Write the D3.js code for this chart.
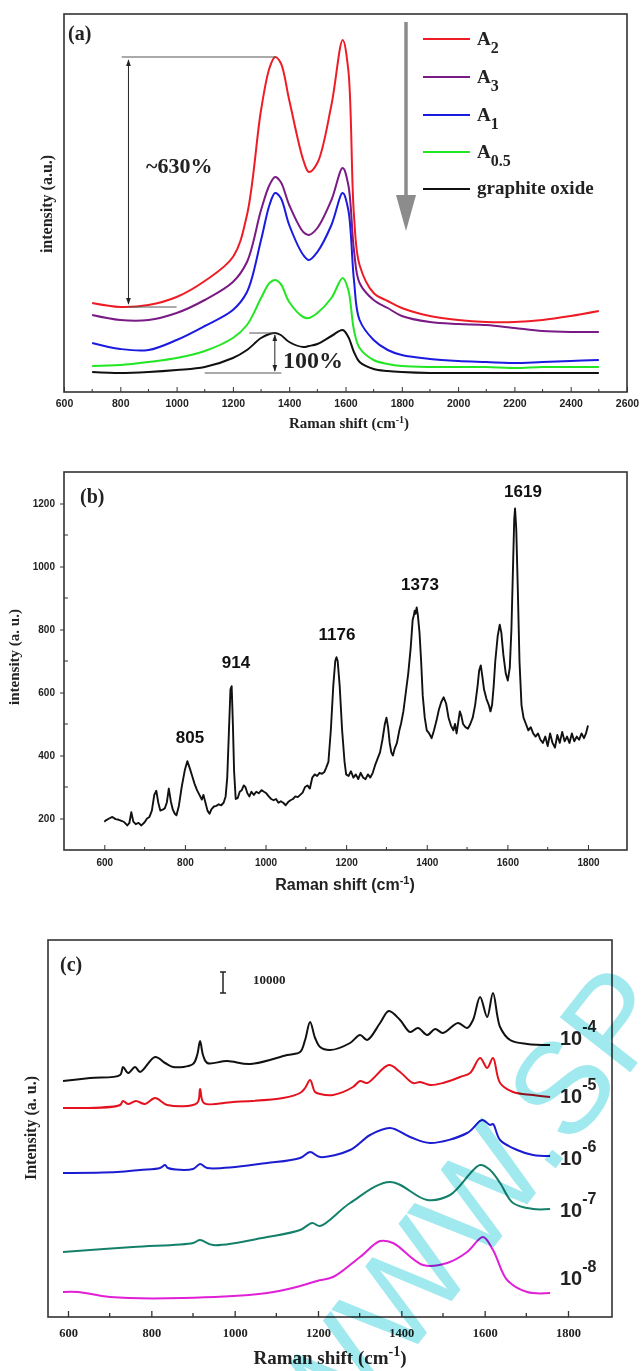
<!DOCTYPE html>
<html><head><meta charset="utf-8">
<script src="https://cdn.jsdelivr.net/npm/d3@7"></script>
<style>
html,body{margin:0;padding:0;background:#fff;}
svg{display:block;}
</style></head><body>
<svg id="chart" width="642" height="1371"></svg>
<script>
// ---------------- Panel (a) data ----------------
const shiftA = [700,800,900,1000,1100,1200,1250,1300,1330,1350,1370,1400,1450,1470,1500,1550,1590,1610,1630,1650,1700,1750,1800,1900,2000,2100,2200,2300,2400,2500];
const seriesA2  = [89,85,87,95,111,135,177,282,324,335,329,292,232,220,229,287,352,322,177,127,99,91,84,76,72,70,70,72,76,81];
const seriesA3  = [77,72,72,79,92,110,130,182,207,215,210,187,160,157,164,192,224,207,142,109,92,84,76,70,68,67,64,61,60,60];
const seriesA1  = [49,43,42,52,66,82,100,152,187,199,194,167,137,132,140,167,199,182,112,72,52,42,37,33,31,30,29,30,31,32];
const seriesA05 = [26,27,30,34,41,54,67,94,109,112,108,90,75,74,79,94,114,102,62,44,32,28,26,25,25,25,24,25,25,25];
const seriesGO  = [20,19,20,22,25,34,42,54,58,59,57,50,45,46,48,56,62,55,40,30,23,21,20,19,19,19,19,19,19,19];
const legendA = [
  {name:"A", sub:"2",   color:"#ee1c25", values:seriesA2},
  {name:"A", sub:"3",   color:"#7a1a85", values:seriesA3},
  {name:"A", sub:"1",   color:"#1a1ae0", values:seriesA1},
  {name:"A", sub:"0.5", color:"#22e622", values:seriesA05},
  {name:"graphite oxide", sub:"", color:"#111111", values:seriesGO}
];
const ticksA = [600,800,1000,1200,1400,1600,1800,2000,2200,2400,2600];

// ---------------- Panel (b) data ----------------
const shiftB = [600,605,612,620,628,636,644,650,657,662,667,672,678,685,692,700,706,712,718,724,729,734,739,745,750,755,760,765,770,775,779,785,792,800,806,812,818,824,830,836,842,846,851,856,861,866,872,878,884,890,896,901,905,909,913,916,919,922,926,931,936,941,946,950,955,960,965,971,977,983,990,996,1002,1008,1014,1020,1026,1032,1038,1044,1050,1056,1062,1068,1074,1080,1086,1092,1098,1104,1110,1116,1122,1128,1134,1140,1146,1150,1156,1162,1168,1173,1176,1179,1184,1190,1196,1200,1206,1212,1218,1224,1230,1236,1242,1248,1254,1260,1266,1272,1278,1284,1290,1296,1300,1304,1308,1312,1316,1320,1326,1332,1336,1342,1348,1354,1360,1365,1368,1370,1372,1375,1378,1382,1386,1390,1395,1400,1406,1412,1418,1424,1430,1436,1442,1448,1454,1460,1466,1470,1474,1478,1482,1486,1490,1496,1502,1508,1514,1520,1526,1530,1534,1538,1542,1548,1554,1558,1562,1566,1570,1576,1581,1585,1590,1596,1601,1606,1610,1614,1617,1619,1622,1626,1630,1635,1640,1646,1652,1658,1664,1670,1676,1682,1688,1694,1700,1706,1712,1718,1724,1730,1736,1742,1748,1754,1760,1766,1772,1778,1784,1790,1795,1800];
const intensityB = [190,195,200,205,198,196,192,188,178,185,220,190,182,186,178,188,200,205,225,275,288,250,225,228,232,250,295,255,228,215,210,240,300,355,382,360,335,310,290,275,260,275,250,225,215,230,238,240,245,242,250,270,330,470,610,620,500,350,262,265,285,290,305,300,280,270,285,275,285,280,290,285,280,270,262,258,262,250,255,250,242,252,258,262,270,268,275,282,300,305,295,330,340,335,345,342,348,360,380,480,620,700,712,700,620,480,380,340,335,350,330,340,325,345,330,325,340,330,345,370,390,410,450,500,520,490,440,410,400,420,440,480,500,540,600,660,740,830,845,860,850,870,845,790,700,590,520,480,470,455,480,510,545,570,585,565,520,495,480,500,470,505,540,525,500,490,485,500,520,560,620,670,686,650,610,580,560,540,560,620,700,780,815,790,720,660,638,680,800,1000,1150,1184,1120,920,700,560,520,500,480,490,470,460,470,450,440,460,430,470,440,425,465,440,475,445,460,440,470,445,460,450,470,455,470,495];
const peakLabelsB = [805,914,1176,1373,1619];
const ticksBx = [600,800,1000,1200,1400,1600,1800];
const ticksBy = [200,400,600,800,1000,1200];

// ---------------- Panel (c) data ----------------
const c4x = [588,653,725,732,744,761,773,809,833,852,900,910,917,924,934,982,1037,1126,1157,1169,1181,1193,1205,1229,1277,1301,1318,1349,1370,1397,1421,1440,1462,1481,1500,1536,1558,1572,1589,1606,1620,1637,1661,1702,1757];
const c4y = [236,239,242,250,244,250,245,260,254,250,253,262,276,262,254,256,253,262,265,277,295,279,270,267,274,282,277,294,306,297,285,289,282,288,284,294,289,297,320,300,324,290,277,273,272];
const c5x = [588,725,732,744,763,785,809,838,910,917,926,996,1116,1157,1169,1181,1193,1205,1236,1284,1301,1318,1370,1397,1428,1445,1469,1500,1541,1565,1589,1606,1620,1637,1668,1716,1757];
const c5y = [209,212,216,213,216,213,219,212,214,228,214,215,219,224,229,237,225,223,222,230,236,234,252,245,234,235,232,234,240,244,259,249,259,234,225,222,220];
const c6x = [588,718,773,821,833,840,900,917,934,1078,1157,1181,1205,1277,1325,1373,1421,1469,1558,1594,1613,1620,1637,1678,1716,1757];
const c6y = [144,145,147,149,152,149,148,153,149,154,159,165,160,167,182,189,180,174,184,197,192,193,177,167,162,161];
const c7x = [588,756,900,917,948,1078,1157,1186,1205,1277,1373,1462,1517,1589,1613,1637,1668,1716,1757];
const c7y = [65,70,74,77,72,80,87,94,91,114,135,117,122,152,147,134,114,108,108];
const c8x = [588,624,701,876,1078,1157,1198,1236,1301,1349,1380,1452,1510,1558,1596,1620,1654,1702,1757];
const c8y = [25,25,20,19,24,31,36,40,60,76,74,52,54,65,80,67,37,25,24];
const seriesC = [
  {exp:"-4", color:"#111111", xs:c4x, ys:c4y},
  {exp:"-5", color:"#e3121e", xs:c5x, ys:c5y},
  {exp:"-6", color:"#1b1bd0", xs:c6x, ys:c6y},
  {exp:"-7", color:"#14806a", xs:c7x, ys:c7y},
  {exp:"-8", color:"#e01fd6", xs:c8x, ys:c8y}
];
const ticksCx = [600,800,1000,1200,1400,1600,1800];

// ---------------- drawing ----------------
const svg = d3.select("#chart");
const SERIF = "'Liberation Serif','Times New Roman',serif";
const SANS = "'Liberation Sans',Arial,sans-serif";
const defs = svg.append("defs");
defs.append("marker").attr("id","ah").attr("viewBox","0 0 10 10").attr("refX",9).attr("refY",5)
  .attr("markerWidth",7).attr("markerHeight",7).attr("orient","auto-start-reverse")
  .append("path").attr("d","M0,1.5 L10,5 L0,8.5 Z").attr("fill","#222");

function frame(x0,y0,x1,y1){
  svg.append("rect").attr("x",x0).attr("y",y0).attr("width",x1-x0).attr("height",y1-y0)
    .attr("fill","none").attr("stroke","#333").attr("stroke-width",1.6);
}

// ===== Panel (a) =====
{
  const L=64,T=14,R=627,B=392;
  const x = d3.scaleLinear().domain([600,2600]).range([L,R]);
  const y = d3.scaleLinear().domain([0,378]).range([B,T]);
  frame(L,T,R,B);
  const ax = svg.append("g").attr("transform",`translate(0,${B})`)
    .call(d3.axisBottom(x).tickValues(ticksA).tickSize(-5).tickPadding(8).tickFormat(d3.format("d")));
  ax.select(".domain").remove();
  ax.selectAll("line").attr("stroke","#333");
  ax.selectAll("text").attr("font-family",SANS).attr("font-weight","bold").attr("font-size",10.5).attr("fill","#222");
  const minorA = ticksA.slice(0,-1).map(v=>v+100);
  svg.append("g").selectAll("line").data(minorA).join("line")
    .attr("x1",d=>x(d)).attr("x2",d=>x(d)).attr("y1",B).attr("y2",B-3).attr("stroke","#333");
  const line = d3.line().x((d,i)=>x(shiftA[i])).y(d=>y(d)).curve(d3.curveCatmullRom.alpha(0.5));
  [...legendA].reverse().forEach(s=>{
    svg.append("path").attr("d",line(s.values)).attr("fill","none").attr("stroke",s.color).attr("stroke-width",2);
  });
  // annotations
  const g = svg.append("g").attr("stroke","#555").attr("stroke-width",1);
  g.append("line").attr("x1",x(805)).attr("x2",x(1350)).attr("y1",y(335)).attr("y2",y(335));
  g.append("line").attr("x1",x(829)).attr("x2",x(1000)).attr("y1",y(85)).attr("y2",y(85));
  g.append("line").attr("x1",x(829)).attr("x2",x(829)).attr("y1",y(88)).attr("y2",y(332))
    .attr("stroke","#222").attr("marker-end","url(#ah)").attr("marker-start","url(#ah)");
  g.append("line").attr("x1",x(1258)).attr("x2",x(1352)).attr("y1",y(59)).attr("y2",y(59));
  g.append("line").attr("x1",x(1100)).attr("x2",x(1372)).attr("y1",y(19)).attr("y2",y(19));
  g.append("line").attr("x1",x(1349)).attr("x2",x(1349)).attr("y1",y(21)).attr("y2",y(57))
    .attr("stroke","#222").attr("marker-end","url(#ah)").attr("marker-start","url(#ah)");
  svg.append("text").attr("x",146).attr("y",173).attr("font-family",SERIF).attr("font-weight","bold")
    .attr("font-size",22).attr("fill","#222").text("~630%");
  svg.append("text").attr("x",283).attr("y",368).attr("font-family",SERIF).attr("font-weight","bold")
    .attr("font-size",24).attr("fill","#222").text("100%");
  // big grey arrow
  svg.append("line").attr("x1",406).attr("x2",406).attr("y1",22).attr("y2",200).attr("stroke","#8c8c8c").attr("stroke-width",3.5);
  svg.append("path").attr("d","M396,195 L416,195 L406,231 Z").attr("fill","#8c8c8c");
  // legend
  const lg = svg.append("g");
  const ly = [39,77,115,152,189];
  legendA.forEach((s,i)=>{
    lg.append("line").attr("x1",423).attr("x2",470).attr("y1",ly[i]).attr("y2",ly[i]).attr("stroke",s.color).attr("stroke-width",2);
    const t = lg.append("text").attr("x",477).attr("y",ly[i]+(s.sub?6:5)).attr("font-family",SERIF)
      .attr("font-weight","bold").attr("font-size",19).attr("fill","#222");
    t.append("tspan").text(s.name);
    if(s.sub) t.append("tspan").attr("dy",8).attr("font-size",16).text(s.sub);
  });
  svg.append("text").attr("x",68).attr("y",40).attr("font-family",SERIF).attr("font-weight","bold")
    .attr("font-size",20).attr("fill","#222").text("(a)");
  const xl = svg.append("text").attr("x",349).attr("y",428).attr("text-anchor","middle").attr("font-family",SERIF)
    .attr("font-weight","bold").attr("font-size",15).attr("fill","#222");
  xl.append("tspan").text("Raman shift (cm");
  xl.append("tspan").attr("dy",-5).attr("font-size",10).text("-1");
  xl.append("tspan").attr("dy",5).text(")");
  svg.append("text").attr("transform","translate(52,204) rotate(-90)").attr("text-anchor","middle")
    .attr("font-family",SERIF).attr("font-weight","bold").attr("font-size",16).attr("fill","#222").text("intensity (a.u.)");
}

// ===== Panel (b) =====
{
  const L=64,T=472,R=627,B=850;
  const x = d3.scaleLinear().domain([600,1800]).range([104.3,588]);
  const y = d3.scaleLinear().domain([100,1300]).range([B,T]);
  frame(L,T,R,B);
  const ax = svg.append("g").attr("transform",`translate(0,${B})`)
    .call(d3.axisBottom(x).tickValues(ticksBx).tickSize(-5).tickPadding(9).tickFormat(d3.format("d")));
  ax.select(".domain").remove();
  ax.selectAll("line").attr("stroke","#333");
  ax.selectAll("text").attr("font-family",SANS).attr("font-weight","bold").attr("font-size",10).attr("fill","#222");
  svg.append("g").selectAll("line").data(ticksBx.slice(0,-1).map(v=>v+100)).join("line")
    .attr("x1",d=>x(d)).attr("x2",d=>x(d)).attr("y1",B).attr("y2",B-3).attr("stroke","#333");
  const ay = svg.append("g").attr("transform",`translate(${L},0)`)
    .call(d3.axisLeft(y).tickValues(ticksBy).tickSize(4).tickPadding(5).tickFormat(d3.format("d")));
  ay.select(".domain").remove();
  ay.selectAll("line").attr("stroke","#333");
  ay.selectAll("text").attr("font-family",SANS).attr("font-weight","bold").attr("font-size",10).attr("fill","#222");
  svg.append("g").selectAll("line").data(ticksBy.slice(0,-1).map(v=>v+100)).join("line")
    .attr("x1",L).attr("x2",L+4).attr("y1",d=>y(d)).attr("y2",d=>y(d)).attr("stroke","#333");
  const line = d3.line().x((d,i)=>x(shiftB[i])).y(d=>y(d));
  svg.append("path").attr("d",line(intensityB)).attr("fill","none").attr("stroke","#111").attr("stroke-width",1.9).attr("stroke-linejoin","round");
  const labelPos = {805:[190,743],914:[236,668],1176:[337,640],1373:[420,590],1619:[523,497]};
  peakLabelsB.forEach(p=>{
    svg.append("text").attr("x",labelPos[p][0]).attr("y",labelPos[p][1]).attr("text-anchor","middle")
      .attr("font-family",SANS).attr("font-weight","bold").attr("font-size",17).attr("fill","#111").text(p);
  });
  svg.append("text").attr("x",80).attr("y",503).attr("font-family",SERIF).attr("font-weight","bold")
    .attr("font-size",20).attr("fill","#222").text("(b)");
  const xl = svg.append("text").attr("x",345).attr("y",890).attr("text-anchor","middle").attr("font-family",SANS)
    .attr("font-weight","bold").attr("font-size",16).attr("fill","#222");
  xl.append("tspan").text("Raman shift (cm");
  xl.append("tspan").attr("dy",-6).attr("font-size",11).text("-1");
  xl.append("tspan").attr("dy",6).text(")");
  svg.append("text").attr("transform","translate(19,657) rotate(-90)").attr("text-anchor","middle")
    .attr("font-family",SERIF).attr("font-weight","bold").attr("font-size",15).attr("fill","#222").text("intensity (a. u.)");
}

// ===== Panel (c) =====
{
  const L=48,T=940,R=612,B=1317;
  const x = d3.scaleLinear().domain([600,1800]).range([68,568]);
  const y = d3.scaleLinear().domain([0,377]).range([B,T]);
  frame(L,T,R,B);
  const ax = svg.append("g").attr("transform",`translate(0,${B})`)
    .call(d3.axisBottom(x).tickValues(ticksCx).tickSize(-6).tickPadding(11).tickFormat(d3.format("d")));
  ax.select(".domain").remove();
  ax.selectAll("line").attr("stroke","#333").attr("stroke-width",1.3);
  ax.selectAll("text").attr("font-family",SERIF).attr("font-weight","bold").attr("font-size",12.5).attr("fill","#222");
  svg.append("g").selectAll("line").data(ticksCx.slice(0,-1).map(v=>v+100)).join("line")
    .attr("x1",d=>x(d)).attr("x2",d=>x(d)).attr("y1",B).attr("y2",B-4).attr("stroke","#333").attr("stroke-width",1.3);
  seriesC.forEach(s=>{
    const line = d3.line().x((d,i)=>x(s.xs[i])).y(d=>y(d)).curve(d3.curveCatmullRom.alpha(0.5));
    svg.append("path").attr("d",line(s.ys)).attr("fill","none").attr("stroke",s.color).attr("stroke-width",2);
  });
  const labY = [1045,1103,1165,1217,1285];
  seriesC.forEach((s,i)=>{
    const t = svg.append("text").attr("x",560).attr("y",labY[i]).attr("font-family",SANS).attr("font-weight","bold")
      .attr("font-size",20).attr("fill","#222");
    t.append("tspan").text("10");
    t.append("tspan").attr("dy",-13).attr("font-size",16).text(s.exp);
  });
  const sb = svg.append("g").attr("stroke","#222").attr("stroke-width",1.5);
  sb.append("line").attr("x1",223).attr("x2",223).attr("y1",972).attr("y2",993);
  sb.append("line").attr("x1",220).attr("x2",226).attr("y1",972).attr("y2",972);
  sb.append("line").attr("x1",220).attr("x2",226).attr("y1",993).attr("y2",993);
  svg.append("text").attr("x",253).attr("y",984).attr("font-family",SERIF).attr("font-weight","bold")
    .attr("font-size",13).attr("fill","#222").text("10000");
  svg.append("text").attr("x",60).attr("y",971).attr("font-family",SERIF).attr("font-weight","bold")
    .attr("font-size",20).attr("fill","#222").text("(c)");
  const xl = svg.append("text").attr("x",330).attr("y",1364).attr("text-anchor","middle").attr("font-family",SERIF)
    .attr("font-weight","bold").attr("font-size",19).attr("fill","#222");
  xl.append("tspan").text("Raman shift (cm");
  xl.append("tspan").attr("dy",-8).attr("font-size",14).text("-1");
  xl.append("tspan").attr("dy",8).text(")");
  svg.append("text").attr("transform","translate(36,1128) rotate(-90)").attr("text-anchor","middle")
    .attr("font-family",SERIF).attr("font-weight","bold").attr("font-size",16).attr("fill","#222").text("Intensity (a. u.)");
}

// watermark
svg.append("text").attr("transform","translate(326,1462) rotate(-52)")
  .attr("font-family",SANS).attr("font-size",130).attr("fill","#a0e9ef")
  .style("mix-blend-mode","multiply").text("WWW.SP");
</script>
</body></html>
